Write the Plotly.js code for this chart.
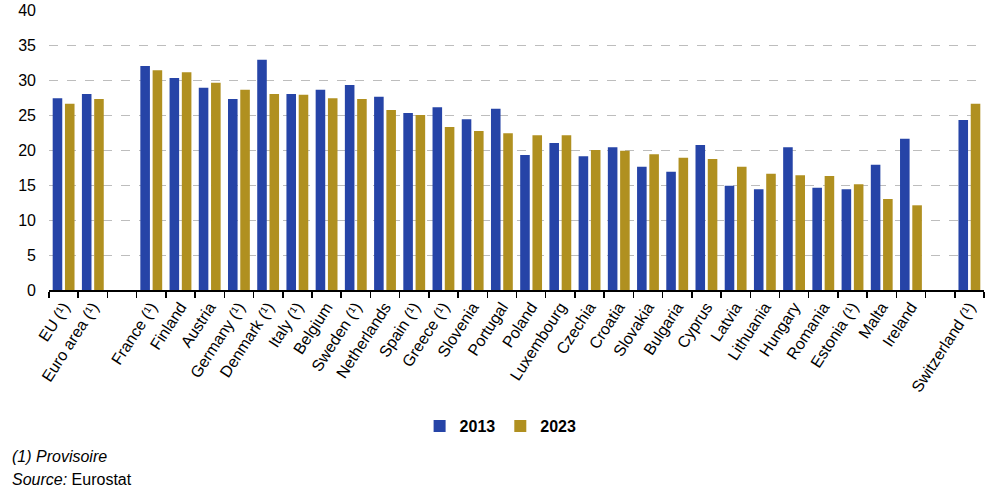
<!DOCTYPE html>
<html>
<head>
<meta charset="utf-8">
<script src="https://cdn.plot.ly/plotly-3.0.1.min.js"></script>
<style>
html,body{margin:0;padding:0;background:#fff;}
#chart{width:994px;height:499px;}
</style>
</head>
<body>
<div id="chart"></div>
<script>
const categories = ["EU (¹)", "Euro area (¹)", " ", "France (¹)", "Finland", "Austria", "Germany (¹)", "Denmark (¹)", "Italy (¹)", "Belgium", "Sweden (¹)", "Netherlands", "Spain (¹)", "Greece (¹)", "Slovenia", "Portugal", "Poland", "Luxembourg", "Czechia", "Croatia", "Slovakia", "Bulgaria", "Cyprus", "Latvia", "Lithuania", "Hungary", "Romania", "Estonia (¹)", "Malta", "Ireland", "  ", "Switzerland (¹)"];
const values2013 = [27.4, 28.0, null, 32.0, 30.3, 28.9, 27.3, 32.9, 28.0, 28.6, 29.3, 27.6, 25.3, 26.1, 24.4, 25.9, 19.3, 21.0, 19.1, 20.4, 17.6, 16.9, 20.7, 14.9, 14.4, 20.4, 14.6, 14.4, 17.9, 21.6, null, 24.3];
const values2023 = [26.6, 27.3, null, 31.4, 31.1, 29.6, 28.6, 28.0, 27.9, 27.4, 27.3, 25.7, 25.0, 23.3, 22.7, 22.4, 22.1, 22.1, 20.0, 19.9, 19.4, 18.9, 18.7, 17.6, 16.6, 16.4, 16.3, 15.1, 13.0, 12.1, null, 26.6];
const seriesNames = ["2013", "2023"];
const yTicks = [0, 5, 10, 15, 20, 25, 30, 35, 40];

const font = "Liberation Sans, Arial, sans-serif";
const traces = [
  {type: "bar", name: seriesNames[0], x: categories, y: values2013, marker: {color: "#2644A7"}, hoverinfo: "skip"},
  {type: "bar", name: seriesNames[1], x: categories, y: values2023, marker: {color: "#B09020"}, hoverinfo: "skip"}
];

const layout = {
  width: 994, height: 499,
  margin: {l: 49, r: 10, t: 10, b: 209},
  paper_bgcolor: "#fff", plot_bgcolor: "#fff",
  font: {family: font, size: 16, color: "#000"},
  barmode: "group", bargap: 0.16, bargroupgap: 0.22,
  showlegend: true,
  legend: {orientation: "h", x: 0.483, xanchor: "center", y: -0.486, yanchor: "middle",
           font: {family: font, size: 16, color: "#000", weight: "bold"}, itemwidth: 30, traceorder: "normal"},
  xaxis: {type: "category", tickangle: -57, showline: true, linecolor: "#000", linewidth: 1.5,
          ticks: "outside", ticklen: 6, tickcolor: "#000", tickwidth: 1.5, tickson: "boundaries",
          showgrid: false, tickfont: {family: font, size: 16, color: "#000"}, fixedrange: true},
  yaxis: {range: [0, 40], tickvals: yTicks, showline: false, zeroline: false,
          showgrid: true, gridcolor: "#bdbdbd", griddash: "dash", gridwidth: 1,
          ticks: "", ticklabelstandoff: 12, tickfont: {family: font, size: 16, color: "#000"}, fixedrange: true},
  annotations: [
    {xref: "paper", yref: "paper", x: -0.0417, y: -0.596, xanchor: "left", yanchor: "middle", showarrow: false,
     text: "<i>(1) Provisoire</i>", font: {family: font, size: 16, color: "#000"}},
    {xref: "paper", yref: "paper", x: -0.0417, y: -0.675, xanchor: "left", yanchor: "middle", showarrow: false,
     text: "<i>Source:</i> Eurostat", font: {family: font, size: 16, color: "#000"}}
  ]
};

Plotly.newPlot("chart", traces, layout, {displayModeBar: false, staticPlot: true});
</script>
</body>
</html>
